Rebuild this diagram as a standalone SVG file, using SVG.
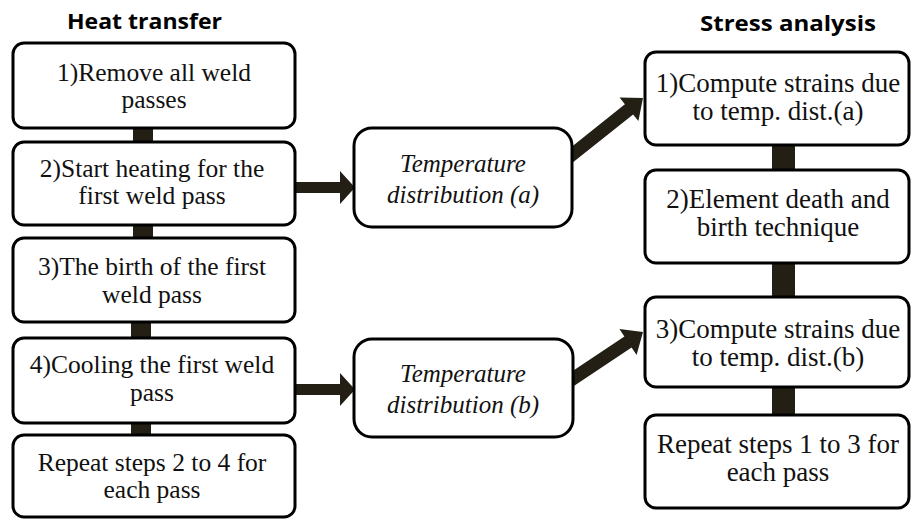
<svg xmlns="http://www.w3.org/2000/svg" width="911" height="519" viewBox="0 0 911 519">
<style>
.box{fill:#fff;stroke:#000;stroke-width:3}
.s{font-family:"Liberation Serif","Times New Roman",serif;fill:#111;text-anchor:middle}
.i{font-style:italic}
.h{font-family:"Open Sans","Liberation Sans",sans-serif;font-size:22px;font-weight:700;fill:#000;text-anchor:middle}
.c{fill:#231f14}
</style>
<text class="h" x="144.5" y="29" textLength="155" lengthAdjust="spacingAndGlyphs">Heat transfer</text>
<text class="h" x="788" y="31" textLength="176" lengthAdjust="spacingAndGlyphs">Stress analysis</text>
<g id="connectors">
<rect class="c" x="133" y="126" width="20" height="18"/>
<rect class="c" x="133" y="223" width="20" height="17"/>
<rect class="c" x="131" y="320" width="20" height="20"/>
<rect class="c" x="131" y="421" width="20" height="16"/>
<rect class="c" x="772" y="143" width="23" height="29"/>
<rect class="c" x="772" y="261" width="23" height="38"/>
<rect class="c" x="772" y="385" width="23" height="32"/>
<polygon class="c" points="293,182 340,182 340,171 355,187.5 340,204 340,193 293,193"/>
<polygon class="c" points="293,384 340,384 340,373 355,389.5 340,406 340,395 293,395"/>
<polygon class="c" points="563.9,152.9 624.9,104.2 619.6,97.6 643,98 638.4,121 633.1,114.4 572.1,163.1"/>
<polygon class="c" points="564.4,376.6 624.4,336.6 619.4,329.1 643,332 636.6,354.9 631.6,347.4 571.6,387.4"/>
</g>
<g id="ht1" font-family="Liberation Serif, serif" font-size="25.5"><rect class="box" x="13" y="43" width="282" height="85" rx="11"/>
<text class="s" x="154" y="81">1)Remove all  weld</text><text class="s" x="154" y="108">passes</text></g>
<g id="ht2" font-family="Liberation Serif, serif" font-size="25.5"><rect class="box" x="13" y="142" width="282" height="83" rx="11"/>
<text class="s" x="152" y="177">2)Start heating for the</text><text class="s" x="152" y="204">first weld pass</text></g>
<g id="ht3" font-family="Liberation Serif, serif" font-size="25.5"><rect class="box" x="13" y="238" width="282" height="84" rx="11"/>
<text class="s" x="152" y="275">3)The birth of the first</text><text class="s" x="152" y="303">weld pass</text></g>
<g id="ht4" font-family="Liberation Serif, serif" font-size="25.5"><rect class="box" x="13" y="338" width="282" height="85" rx="11"/>
<text class="s" x="152" y="373">4)Cooling the first weld</text><text class="s" x="152" y="401">pass</text></g>
<g id="ht5" font-family="Liberation Serif, serif" font-size="25.5"><rect class="box" x="13" y="435" width="282" height="82" rx="11"/>
<text class="s" x="152" y="471">Repeat steps 2 to 4 for</text><text class="s" x="152" y="498">each pass</text></g>
<g id="tda" font-family="Liberation Serif, serif" font-size="25"><rect class="box" x="354" y="128" width="218" height="99" rx="18"/>
<text class="s i" x="463" y="172">Temperature</text><text class="s i" x="463" y="203">distribution (a)</text></g>
<g id="tdb" font-family="Liberation Serif, serif" font-size="25"><rect class="box" x="354" y="339" width="219" height="98" rx="18"/>
<text class="s i" x="463" y="382">Temperature</text><text class="s i" x="463" y="413">distribution (b)</text></g>
<g id="sa1" font-family="Liberation Serif, serif" font-size="27"><rect class="box" x="645" y="52" width="264" height="93" rx="11"/>
<text class="s" x="778" y="92">1)Compute strains due</text><text class="s" x="778" y="120">to temp. dist.(a)</text></g>
<g id="sa2" font-family="Liberation Serif, serif" font-size="27"><rect class="box" x="645" y="170" width="264" height="93" rx="11"/>
<text class="s" x="778" y="208">2)Element death and</text><text class="s" x="778" y="236">birth technique</text></g>
<g id="sa3" font-family="Liberation Serif, serif" font-size="27"><rect class="box" x="645" y="297" width="264" height="90" rx="11"/>
<text class="s" x="778" y="338">3)Compute strains due</text><text class="s" x="778" y="366">to temp. dist.(b)</text></g>
<g id="sa4" font-family="Liberation Serif, serif" font-size="27"><rect class="box" x="645" y="415" width="264" height="93" rx="11"/>
<text class="s" x="778" y="453">Repeat steps 1 to 3 for</text><text class="s" x="778" y="481">each pass</text></g>
</svg>
